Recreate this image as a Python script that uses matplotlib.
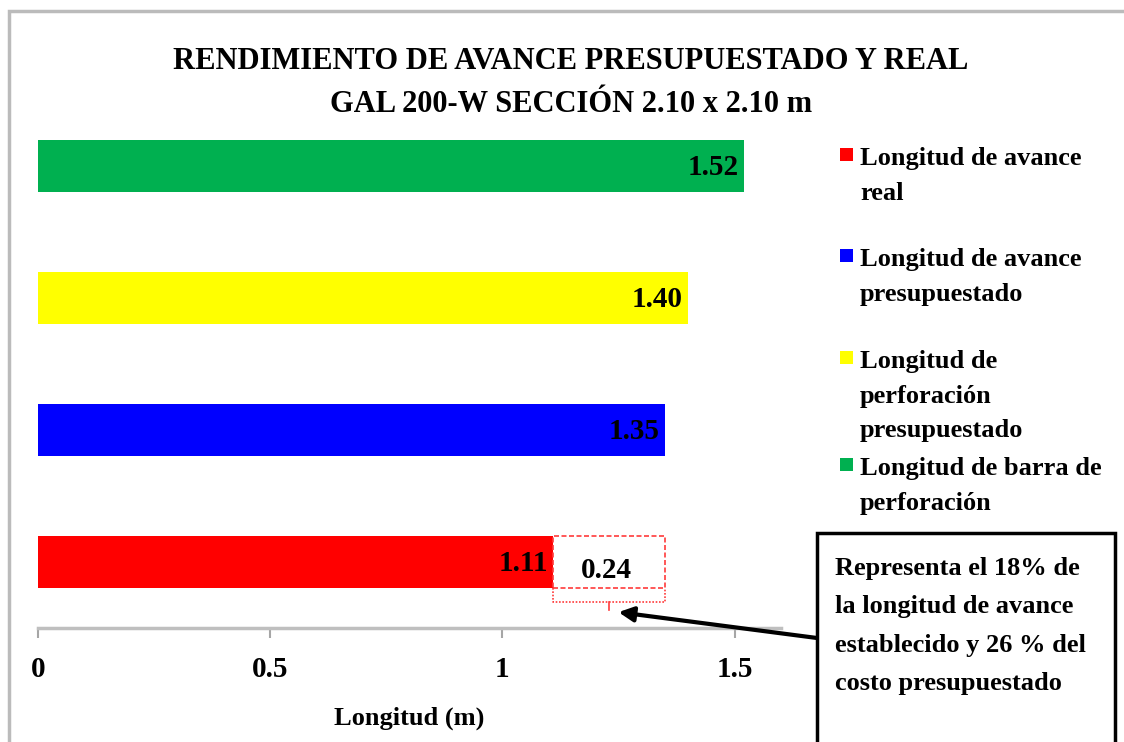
"""
Rendimiento de avance presupuestado y real - GAL 200-W
"""

import matplotlib
matplotlib.use("Agg")
import matplotlib.pyplot as plt
from matplotlib.patches import Rectangle

plt.rcParams['font.family'] = ['Liberation Serif', 'DejaVu Serif']
plt.rcParams['font.weight'] = 'bold'

# datos (de abajo hacia arriba)
categorias = ['Longitud de avance\nreal',
              'Longitud de avance\npresupuestado',
              'Longitud de\nperforación\npresupuestado',
              'Longitud de barra de\nperforación']
valores = [1.11, 1.35, 1.40, 1.52]
colores = ['#FF0000', '#0000FF', '#FFFF00', '#00B050']
brecha = [0.24]
xticks = [0, 0.5, 1, 1.5]
xtickLabels = ['0', '0.5', '1', '1.5']

W, H = 1124, 742
fig = plt.figure(figsize=(W / 100, H / 100), dpi=100)

def fx(px):
    return px / W

def fy(py):
    return 1 - py / H

ax = fig.add_axes([fx(38), fy(628), fx(781) - fx(38), fy(100) - fy(628)])

yPos = list(range(len(valores)))
ax.barh(yPos, valores, height=0.4, color=colores, zorder=2)

# segmento de diferencia (punteado rojo)
ax.barh([0], brecha, left=[valores[0]], height=0.4, facecolor='white',
        edgecolor='#FF3B3B', linewidth=1.2, linestyle=(0, (3, 1.5)), zorder=2)

# corchete debajo del segmento
xa, xb = valores[0], valores[0] + brecha[0]
ax.plot([xa, xa, xb, xb], [-0.2, -0.303, -0.303, -0.2], color='#FF3B3B',
        lw=1.2, linestyle=(0, (1, 1)), zorder=2)
xm = (xa + xb) / 2
ax.plot([xm, xm], [-0.303, -0.365], color='#FF3B3B', lw=1.2, zorder=2)

# etiquetas de valores
for y, v in zip(yPos, valores):
    ax.annotate('%.2f' % v, xy=(v, y), xytext=(-4, -1), textcoords='offset points',
                ha='right', va='center', fontsize=21, fontweight='bold', zorder=3)
ax.annotate('%.2f' % brecha[0], xy=(xm, 0), xytext=(-2, -6), textcoords='offset points',
            ha='center', va='center', fontsize=21, fontweight='bold', zorder=3)

ax.set_xlim(0, 1.6)
ax.set_ylim(-0.5, 3.5)
ax.set_yticks([])
ax.set_xticks(xticks)
ax.set_xticklabels(xtickLabels)
for s in ['top', 'right', 'left']:
    ax.spines[s].set_visible(False)
ax.spines['bottom'].set_color('#BFBFBF')
ax.spines['bottom'].set_linewidth(2.5)
ax.tick_params(axis='x', direction='out', length=7, width=1.5, color='#A6A6A6',
               labelsize=21, pad=13)
ax.set_xlabel('Longitud (m)', fontsize=19, fontweight='bold', labelpad=17)

# titulo
fig.text(fx(571), fy(83), 'RENDIMIENTO DE AVANCE PRESUPUESTADO Y REAL\nGAL 200-W SECCIÓN 2.10 x 2.10 m',
         ha='center', va='center', fontsize=22, fontweight='bold', linespacing=1.65,
         multialignment='center')

# leyenda manual (rojo arriba, verde abajo)
legendY = [157, 258, 360, 467]
for lbl, col, ly in zip(categorias, colores, legendY):
    fig.patches.append(Rectangle((fx(840), fy(ly + 4)), fx(13), fy(0) - fy(13),
                                 transform=fig.transFigure, facecolor=col, edgecolor='none'))
    fig.text(fx(860), fy(ly - 10), lbl, ha='left', va='top', fontsize=19,
             fontweight='bold', linespacing=1.65)

# recuadro de nota
fig.patches.append(Rectangle((fx(817), fy(800)), fx(1115) - fx(817), fy(533) - fy(800),
                             transform=fig.transFigure, facecolor='white',
                             edgecolor='black', linewidth=2.5, clip_on=False))
fig.text(fx(835), fy(557), 'Representa el 18% de\nla longitud de avance\nestablecido y 26 % del\ncosto presupuestado',
         ha='left', va='top', fontsize=19, fontweight='bold', linespacing=1.85)

ax.annotate('', xy=(1.25, -0.38), xycoords='data',
            xytext=(fx(817), fy(638)), textcoords='figure fraction',
            arrowprops=dict(arrowstyle='-|>', color='black', lw=3,
                            mutation_scale=22, shrinkA=0, shrinkB=0),
            annotation_clip=False)

# marco del grafico
fig.patches.append(Rectangle((fx(9), fy(800)), 1.2, fy(11) - fy(800),
                             transform=fig.transFigure, facecolor='none',
                             edgecolor='#BBBBBB', linewidth=2.5, clip_on=False))

fig.savefig('out.png', dpi=100)
